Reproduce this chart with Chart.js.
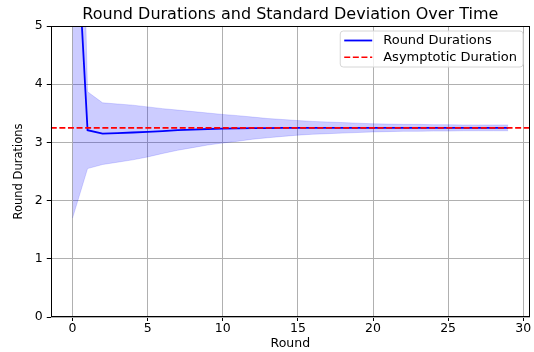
<!DOCTYPE html>
<html>
<head>
<meta charset="utf-8">
<script src="https://cdn.jsdelivr.net/npm/chart.js@4"></script>
<style>
  html, body { margin: 0; padding: 0; background: #fff; }
  #wrap { width: 534px; height: 352px; }
</style>
</head>
<body>
<div id="wrap"><canvas id="c" width="534" height="352"></canvas></div>
<script>
// ---- data ----
const rounds = [0,1,2,3,4,5,6,7,8,9,10,11,12,13,14,15,16,17,18,19,20,21,22,23,24,25,26,27,28,29];
const meanDurations = [7.95,3.21,3.15,3.16,3.17,3.18,3.195,3.21,3.22,3.23,3.235,3.24,3.245,3.245,3.248,3.25,3.25,3.25,3.25,3.25,3.25,3.25,3.25,3.25,3.25,3.25,3.25,3.25,3.25,3.25];
const stdDurations = [6.25,0.66,0.53,0.50,0.47,0.43,0.385,0.345,0.31,0.275,0.245,0.22,0.19,0.165,0.145,0.125,0.11,0.10,0.09,0.08,0.07,0.065,0.06,0.06,0.055,0.055,0.05,0.05,0.05,0.05];
const asymptoticDuration = 3.25;
const xTicks = [0,5,10,15,20,25,30];
const yTicks = [0,1,2,3,4,5];
const xLimits = [-1.45, 30.45];
const yLimits = [0, 5];
const chartTitle = 'Round Durations and Standard Deviation Over Time';

const FONT = "'DejaVu Sans', sans-serif";

const meanPts = rounds.map((r,i)=>({x:r, y:meanDurations[i]}));
const upperPts = rounds.map((r,i)=>({x:r, y:meanDurations[i]+stdDurations[i]}));
const lowerPts = rounds.map((r,i)=>({x:r, y:meanDurations[i]-stdDurations[i]}));
const asymPts = xLimits.map(x=>({x:x, y:asymptoticDuration}));

const framePlugin = {
  id: 'frame',
  afterDatasetsDraw(chart) {
    const {ctx, chartArea:a} = chart;
    ctx.save();
    ctx.strokeStyle = '#000';
    ctx.lineWidth = 1;
    ctx.strokeRect(Math.round(a.left)+0.5, Math.round(a.top)+0.5, Math.round(a.right-a.left)-1, Math.round(a.bottom-a.top)-1);
    ctx.restore();
  }
};

const titlePlugin = {
  id: 'axesTitle',
  afterDraw(chart) {
    const {ctx, chartArea:a} = chart;
    ctx.save();
    ctx.font = "16px " + FONT;
    ctx.fillStyle = '#000';
    ctx.textAlign = 'center';
    ctx.textBaseline = 'alphabetic';
    ctx.fillText(chartTitle, (a.left + a.right) / 2, a.top - 7);
    ctx.restore();
  }
};

const legendPlugin = {
  id: 'mplLegend',
  afterDraw(chart) {
    const {ctx, chartArea:a} = chart;
    const items = chart.data.datasets.filter(d => d.showInLegend);
    items.sort((p,q)=>p.legendOrder-q.legendOrder);
    ctx.save();
    ctx.font = "13px " + FONT;
    let tw = 0;
    items.forEach(d => { tw = Math.max(tw, ctx.measureText(d.label).width); });
    const rowH = 16.7;
    const w = 4 + 28 + 11 + tw + 6;
    const h = 36;
    const x0 = a.right - 7 - w;
    const y0 = a.top + 5;
    const r = 3;
    ctx.beginPath();
    ctx.moveTo(x0+r, y0);
    ctx.lineTo(x0+w-r, y0); ctx.quadraticCurveTo(x0+w, y0, x0+w, y0+r);
    ctx.lineTo(x0+w, y0+h-r); ctx.quadraticCurveTo(x0+w, y0+h, x0+w-r, y0+h);
    ctx.lineTo(x0+r, y0+h); ctx.quadraticCurveTo(x0, y0+h, x0, y0+h-r);
    ctx.lineTo(x0, y0+r); ctx.quadraticCurveTo(x0, y0, x0+r, y0);
    ctx.closePath();
    ctx.fillStyle = 'rgba(255,255,255,0.8)';
    ctx.fill();
    ctx.strokeStyle = '#d6d6d6';
    ctx.lineWidth = 1;
    ctx.stroke();
    items.forEach((d, i) => {
      const cy = y0 + 9.5 + rowH*i;
      ctx.beginPath();
      ctx.setLineDash(d.borderDash || []);
      ctx.strokeStyle = d.borderColor;
      ctx.lineWidth = d.borderWidth;
      ctx.moveTo(x0+4, cy);
      ctx.lineTo(x0+32, cy);
      ctx.stroke();
      ctx.setLineDash([]);
      ctx.fillStyle = '#000';
      ctx.textBaseline = 'middle';
      ctx.textAlign = 'left';
      ctx.fillText(d.label, x0+43, cy);
    });
    ctx.restore();
  }
};

new Chart(document.getElementById('c'), {
  type: 'scatter',
  data: {
    datasets: [
      { label: 'Asymptotic Duration', data: asymPts, showLine: true, borderColor: '#ff0000', borderWidth: 1.6,
        borderDash: [6, 2.6], pointRadius: 0, fill: false, showInLegend: true, legendOrder: 1 },
      { label: 'Round Durations', data: meanPts, showLine: true, borderColor: '#0000ff', borderWidth: 1.8,
        pointRadius: 0, fill: false, tension: 0, showInLegend: true, legendOrder: 0 },
      { label: 'upper', data: upperPts, showLine: true, borderColor: 'rgba(0,0,255,0.15)', borderWidth: 1,
        backgroundColor: 'rgba(0,0,255,0.2)', pointRadius: 0, fill: '+1' },
      { label: 'lower', data: lowerPts, showLine: true, borderColor: 'rgba(0,0,255,0.15)', borderWidth: 1,
        pointRadius: 0, fill: false }
    ]
  },
  options: {
    responsive: false,
    animation: false,
    devicePixelRatio: 1,
    layout: { padding: { left: 12, right: 4, top: 26, bottom: 1 } },
    plugins: {
      legend: { display: false },
      tooltip: { enabled: false },
      title: { display: false }
    },
    scales: {
      x: {
        type: 'linear', min: xLimits[0], max: xLimits[1],
        afterBuildTicks: s => { s.ticks = xTicks.map(v => ({value: v})); },
        grid: { color: '#b0b0b0', lineWidth: 1, tickColor: '#000', tickLength: 4, drawTicks: true },
        border: { display: false },
        ticks: { color: '#000', font: { family: FONT, size: 12.5 }, padding: 0, maxRotation: 0 },
        title: { display: true, text: 'Round', color: '#000', font: { family: FONT, size: 12.5 }, padding: { top: 0, bottom: 0 } }
      },
      y: {
        type: 'linear', min: yLimits[0], max: yLimits[1],
        afterBuildTicks: s => { s.ticks = yTicks.map(v => ({value: v})); },
        grid: { color: '#b0b0b0', lineWidth: 1, tickColor: '#000', tickLength: 4, drawTicks: true },
        border: { display: false },
        ticks: { color: '#000', font: { family: FONT, size: 12.5 }, padding: 4 },
        title: { display: true, text: 'Round Durations', color: '#000', font: { family: FONT, size: 11.5 }, padding: { top: 0, bottom: 5 } }
      }
    }
  },
  plugins: [framePlugin, titlePlugin, legendPlugin]
});
</script>
</body>
</html>
